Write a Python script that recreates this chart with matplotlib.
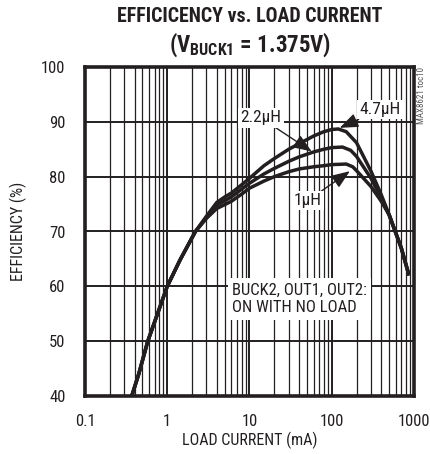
import matplotlib
matplotlib.use("Agg")
import matplotlib.pyplot as plt
from matplotlib import font_manager
from matplotlib.ticker import LogLocator, NullFormatter
import numpy as np


def first_font(cands):
    for c in cands:
        try:
            font_manager.findfont(font_manager.FontProperties(family=c), fallback_to_default=False)
            return c
        except Exception:
            pass
    return 'DejaVu Sans'


FONT = first_font(['Roboto Condensed', 'Liberation Sans Narrow', 'Arial Narrow', 'Roboto', 'Liberation Sans'])
plt.rcParams['font.family'] = [FONT, 'DejaVu Sans']
plt.rcParams['mathtext.fontset'] = 'custom'
plt.rcParams['mathtext.rm'] = FONT + ':bold'
plt.rcParams['mathtext.sf'] = FONT + ':bold'
plt.rcParams['mathtext.bf'] = FONT + ':bold'

# ---- data ----
current_47 = [0.37, 0.45, 0.58, 0.8, 1.0, 1.43, 2.2, 3.0, 4.0, 5.0, 6.0, 8.0, 10, 15, 20, 30, 40, 60, 80, 100, 120, 150, 200, 300, 400, 500, 700, 870]
eff_47     = [40, 44, 50, 55.9, 60, 64.8, 70, 72.8, 75.3, 76.3, 77.0, 78.5, 79.7, 82.0, 83.3, 85.0, 86.0, 87.4, 88.2, 88.6, 88.7, 88.2, 86.2, 81.0, 76.7, 73.0, 67.0, 62.0]

current_22 = [0.37, 0.45, 0.58, 0.8, 1.0, 1.43, 2.2, 3.0, 4.0, 5.0, 6.0, 8.0, 10, 15, 20, 30, 40, 60, 80, 100, 135, 170, 200, 300, 400, 500, 700, 870]
eff_22     = [40, 44, 50, 55.9, 60, 64.8, 70, 72.6, 74.8, 75.6, 76.3, 77.7, 78.8, 80.5, 81.5, 82.8, 83.6, 84.5, 85.0, 85.3, 85.4, 84.8, 83.7, 79.7, 76.1, 73.0, 67.0, 62.0]

current_10 = [0.37, 0.45, 0.58, 0.8, 1.0, 1.43, 2.2, 3.0, 4.0, 5.0, 6.0, 8.0, 10, 15, 20, 30, 40, 60, 80, 100, 150, 180, 200, 300, 400, 500, 700, 870]
eff_10     = [40, 44, 50, 55.9, 60, 64.8, 70, 72.4, 74.2, 74.9, 75.5, 76.8, 77.9, 79.2, 80.0, 80.9, 81.4, 81.8, 82.0, 82.2, 82.3, 81.8, 81.1, 78.2, 75.5, 73.0, 67.0, 62.0]

x_ticks = [0.1, 1, 10, 100, 1000]
x_ticklabels = ['0.1', '1', '10', '100', '1000']
y_ticks = [40, 50, 60, 70, 80, 90, 100]

title_line1 = 'EFFICICENCY vs. LOAD CURRENT'
title_line2 = r'(V$_{\mathsf{BUCK1}}$ = 1.375V)'

W, H = 431, 454
fig = plt.figure(figsize=(W / 100, H / 100), dpi=100)
L, R, T, B = 85, 414, 67, 396
ax = fig.add_axes([L / W, 1 - B / H, (R - L) / W, (B - T) / H])

ink = '#231f20'
for xs, ys in [(current_47, eff_47), (current_22, eff_22), (current_10, eff_10)]:
    ax.plot(xs, ys, color=ink, lw=2.5, solid_capstyle='butt', solid_joinstyle='round', zorder=3)

ax.set_xscale('log')
ax.set_xlim(0.1, 1000)
ax.set_ylim(40, 100)
ax.set_xticks(x_ticks)
ax.set_xticklabels(x_ticklabels)
ax.xaxis.set_minor_locator(LogLocator(base=10, subs=np.arange(2, 10)))
ax.xaxis.set_minor_formatter(NullFormatter())
ax.set_yticks(y_ticks)
ax.tick_params(axis='both', which='both', length=0, labelsize=12, colors=ink)
ax.tick_params(axis='y', pad=14)
ax.tick_params(axis='x', pad=13)

ax.grid(True, which='major', axis='both', color=ink, lw=1.4, zorder=1)
ax.grid(True, which='minor', axis='x', color=ink, lw=0.9, zorder=1)
for s in ax.spines.values():
    s.set_linewidth(2.6)
    s.set_color(ink)
    s.set_zorder(5)

ax.set_xlabel('LOAD CURRENT (mA)', fontsize=11.5, color=ink)
ax.set_ylabel('EFFICIENCY (%)', fontsize=11.5, color=ink)
ax.xaxis.set_label_coords(0.5, -0.11)
ax.yaxis.set_label_coords(-0.175, 0.5)

box = dict(facecolor='white', edgecolor='none', pad=1.5)
ann_kw = dict(fontsize=12.5, color=ink, bbox=box, zorder=6,
              arrowprops=dict(arrowstyle='-|>,head_length=0.9,head_width=0.35', color=ink, lw=1.0,
                              shrinkA=0, shrinkB=0))
ax.annotate('2.2\u00b5H', xy=(57, 84.6), xytext=(13.8, 90.7), ha='center', va='center', **ann_kw)
ax.annotate('4.7\u00b5H', xy=(125, 88.9), xytext=(386, 92.2), ha='center', va='center', **ann_kw)
ax.annotate('1\u00b5H', xy=(166, 81.0), xytext=(50.7, 75.6), ha='center', va='center', **ann_kw)

ax.text(0.4475, 0.295, 'BUCK2, OUT1, OUT2:\nON WITH NO LOAD', transform=ax.transAxes,
        fontsize=12, color=ink, ha='left', va='center', linespacing=1.25,
        bbox=dict(facecolor='white', edgecolor='none', pad=3), zorder=6)

fig.text(250 / W, 1 - 16 / H, title_line1, ha='center', va='center', fontsize=14.3,
         fontweight='bold', color=ink)
fig.text(250 / W, 1 - 45 / H, title_line2, ha='center', va='center', fontsize=16.5,
         fontweight='bold', color=ink)

fig.text(422 / W, 1 - 67 / H, 'MAX8621 toc10', rotation=90, ha='center', va='top',
         fontsize=6.5, color='#555555')

fig.savefig('out.png', dpi=100)
